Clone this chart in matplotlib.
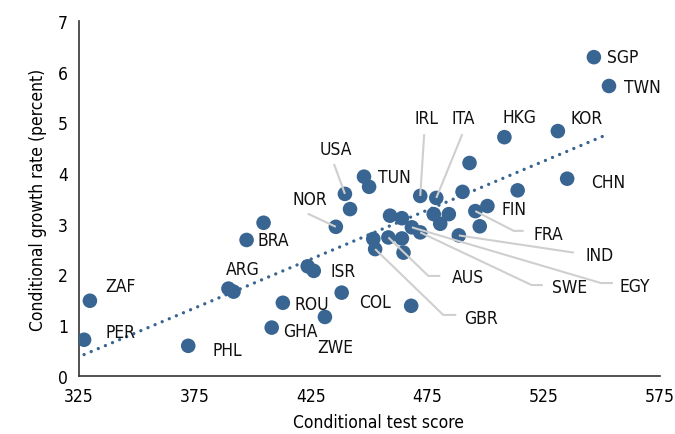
import numpy as np
import matplotlib
matplotlib.use("Agg")
import matplotlib.pyplot as plt
from matplotlib import font_manager

# data (empty label = unlabelled country)
countries = ["SGP", "TWN", "KOR", "HKG", "CHN", "", "", "FIN", "", "IRL",
             "ITA", "TUN", "", "USA", "", "NOR", "", "ISR", "BRA", "",
             "ARG", "", "ZAF", "PER", "PHL", "ROU", "GHA", "ZWE", "COL", "",
             "FRA", "", "IND", "", "", "", "", "", "EGY", "SWE",
             "", "AUS", "", "GBR", ""]
test_score = [546.5, 553.0, 531.0, 508.0, 535.0, 493.0, 513.7, 500.7, 490.0, 471.8,
              478.7, 447.6, 449.8, 439.4, 441.6, 435.5, 423.4, 426.0, 397.1, 404.4,
              389.3, 391.5, 329.7, 327.2, 372.0, 412.7, 407.9, 430.8, 438.0, 467.9,
              495.5, 497.4, 488.4, 458.8, 463.9, 477.6, 484.1, 480.4, 468.2, 471.8,
              451.6, 458.1, 463.9, 452.4, 464.6]
growth_rate = [6.29, 5.72, 4.83, 4.71, 3.89, 4.20, 3.66, 3.35, 3.63, 3.55,
               3.51, 3.93, 3.73, 3.59, 3.29, 2.94, 2.16, 2.07, 2.68, 3.02,
               1.72, 1.66, 1.48, 0.71, 0.59, 1.44, 0.95, 1.16, 1.64, 1.38,
               3.25, 2.95, 2.77, 3.16, 3.11, 3.19, 3.19, 3.00, 2.93, 2.83,
               2.70, 2.73, 2.71, 2.50, 2.43]

x_ticks = [325, 375, 425, 475, 525, 575]
y_ticks = [0, 1, 2, 3, 4, 5, 6, 7]

# label placement: text position, and leader line points (from the dot)
label_pos = {
    "SGP": (552.1, 6.29), "TWN": (559.5, 5.70), "KOR": (536.6, 5.09),
    "HKG": (507.2, 5.11), "IRL": (469.2, 5.09), "ITA": (485.2, 5.09),
    "CHN": (545.2, 3.83), "TUN": (453.7, 3.93), "FIN": (506.8, 3.29),
    "USA": (428.6, 4.48), "NOR": (417.0, 3.49), "BRA": (401.9, 2.68),
    "ARG": (388.0, 2.11), "ISR": (433.4, 2.07), "ZAF": (336.2, 1.78),
    "PER": (336.2, 0.87), "PHL": (382.4, 0.51), "ROU": (417.8, 1.42),
    "GHA": (412.7, 0.89), "ZWE": (427.3, 0.57), "COL": (445.5, 1.46),
    "GBR": (490.8, 1.14), "AUS": (485.2, 1.95), "SWE": (528.4, 1.76),
    "EGY": (557.7, 1.78), "IND": (543.0, 2.39), "FRA": (520.6, 2.80),
}
leaders = {
    "USA": [(434.7, 4.18)], "NOR": [(423.4, 3.20)],
    "IRL": [(473.5, 4.77)], "ITA": [(489.9, 4.77)],
    "FRA": [(512.0, 2.86), (516.3, 2.86)], "IND": [(537.9, 2.43)],
    "EGY": [(549.5, 1.83), (554.7, 1.83)], "SWE": [(519.7, 1.79), (524.5, 1.79)],
    "AUS": [(475.3, 1.97), (480.4, 1.97)], "GBR": [(481.7, 1.20), (487.3, 1.20)],
}

# look for a narrow sans face, the original uses a condensed font
narrow = None
for f in font_manager.fontManager.ttflist:
    st = f.stretch
    cond = (st in ("condensed", "semi-condensed", "extra-condensed", "ultra-condensed")
            or (isinstance(st, int) and st < 500))
    if cond and "Mono" not in f.name and "Serif" not in f.name:
        narrow = (f.name, st)
        if "Sans" in f.name:
            break
if narrow:
    plt.rcParams["font.family"] = [narrow[0], "DejaVu Sans"]
    plt.rcParams["font.stretch"] = narrow[1]
    fs = 12.5
else:
    plt.rcParams["font.family"] = ["Roboto", "DejaVu Sans"]
    fs = 11.5

blue = "#386591"
fig = plt.figure(figsize=(6.75, 4.35), dpi=100)
ax = fig.add_axes([0.117, 0.134, 0.861, 0.815])

x = np.array(test_score)
y = np.array(growth_rate)
ax.scatter(x, y, s=110, color=blue, edgecolors="none", zorder=3)

slope, icpt = np.polyfit(x, y, 1)
xs = np.array([x.min(), x.max()])
ax.plot(xs, slope * xs + icpt, color=blue, lw=2.4,
        linestyle=(0, (0.01, 2.3)), dash_capstyle="round", zorder=2)

for name, sx, sy in zip(countries, test_score, growth_rate):
    if not name:
        continue
    if name in leaders:
        pts = [(sx, sy)] + leaders[name]
        ax.plot([p[0] for p in pts], [p[1] for p in pts], color="#cfcfcf",
                lw=1.5, zorder=4, solid_capstyle="butt")
    tx, ty = label_pos[name]
    ax.text(tx, ty, name, fontsize=fs, ha="left", va="center", color="#111111")

ax.set_xlim(325, 575)
ax.set_ylim(0, 7)
ax.set_xticks(x_ticks)
ax.set_yticks(y_ticks)
ax.tick_params(length=0, labelsize=fs, pad=8)
for s in ["top", "right"]:
    ax.spines[s].set_visible(False)
for s in ["left", "bottom"]:
    ax.spines[s].set_color("#333333")
    ax.spines[s].set_linewidth(1.2)
ax.set_xlabel("Conditional test score", fontsize=fs)
ax.xaxis.set_label_coords(0.515, -0.105)
ax.set_ylabel("Conditional growth rate (percent)", fontsize=fs, labelpad=8)

fig.savefig("out.png", dpi=100)
